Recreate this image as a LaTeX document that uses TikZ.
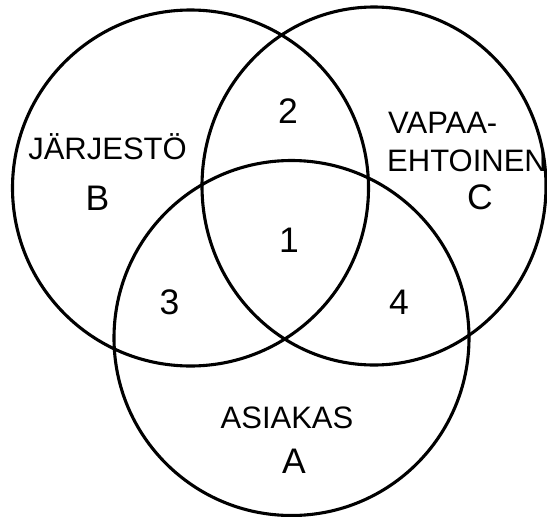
\documentclass[tikz,border=0pt]{standalone}
\usepackage{fontspec}
\setmainfont{Liberation Sans}
\begin{document}
\begin{tikzpicture}[x=1pt,y=-1pt,
  ring/.style={draw=black,line width=3.1pt},
  word/.style={inner sep=0pt,anchor=base,font=\fontsize{31}{36}\selectfont},
  glyph/.style={inner sep=0pt,anchor=base,font=\fontsize{35.5}{40}\selectfont}]
  \useasboundingbox (0,0) rectangle (547,517);
  % three overlapping sets
  \draw[ring] (190.5,188) circle [radius=178];
  \draw[ring] (374,186) ellipse [x radius=172, y radius=179];
  \draw[ring] (291.5,338) circle [radius=177.5];
  % set names
  \node[word] (jarj) at (107.5,159) {JÄRJESTÖ};
  \node[glyph] (lb) at (97.5,210.5) {B};
  \node[word,anchor=base west] (vap) at (388,133.3) {VAPAA-};
  \node[word,anchor=base west] (eht) at (387,171.7) {EHTOINEN};
  \node[glyph] (lc) at (480,209.5) {C};
  \node[word] (asi) at (287,428) {ASIAKAS};
  \node[glyph] (la) at (294,473) {A};
  % overlap numbers
  \node[glyph] (n1) at (289,252) {1};
  \node[glyph] (n2) at (288,123) {2};
  \node[glyph] (n3) at (169.5,314) {3};
  \node[glyph] (n4) at (399,314) {4};
\end{tikzpicture}
\end{document}
